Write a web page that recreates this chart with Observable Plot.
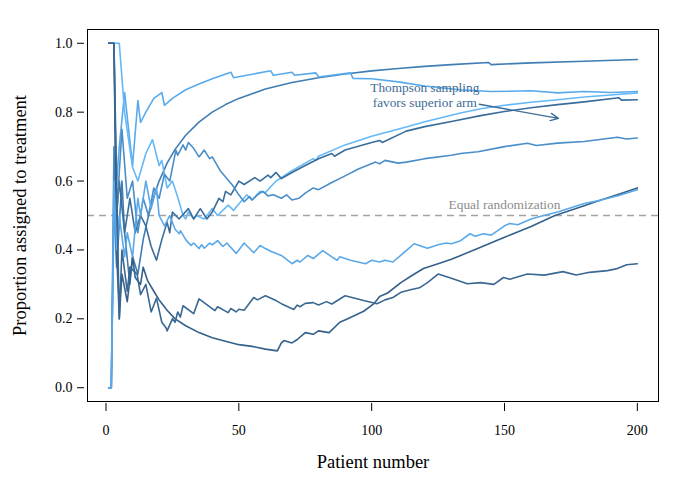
<!DOCTYPE html>
<html>
<head>
<meta charset="utf-8">
<script src="https://cdn.jsdelivr.net/npm/d3@7"></script>
<script src="https://cdn.jsdelivr.net/npm/@observablehq/plot@0.6"></script>
<style>
  html, body { margin: 0; padding: 0; background: #fff; }
  #chart svg { font-family: "Liberation Serif", "DejaVu Serif", serif; }
</style>
</head>
<body>
<div id="chart"></div>
<script>
// ---- Data: [patient number, proportion] ----
const run1 = [[1,0],[2,0],[3,0.55],[4,0.35],[6,0.6],[7,0.45],[9,0.3],[10,0.38],[12,0.33],[14,0.43],[16,0.5],[18,0.556],[20,0.6],[23,0.652],[26,0.692],[30,0.733],[35,0.771],[40,0.8],[45,0.822],[50,0.84],[60,0.867],[70,0.886],[80,0.9],[90,0.911],[100,0.92],[110,0.927],[120,0.933],[130,0.938],[144,0.944],[145,0.938],[160,0.943],[180,0.948],[200,0.953]];
const run2 = [[1,0],[2,0],[3,0.5],[5,0.7],[7,0.857],[10,0.645],[12,0.834],[13,0.77],[15,0.8],[18,0.84],[21,0.857],[22,0.82],[25,0.84],[30,0.865],[35,0.882],[40,0.897],[47,0.916],[48,0.9],[55,0.91],[62,0.92],[63,0.907],[70,0.916],[71,0.907],[79,0.914],[80,0.902],[92,0.914],[93,0.898],[100,0.897],[110,0.888],[120,0.876],[133,0.865],[145,0.86],[160,0.862],[170,0.856],[180,0.86],[190,0.857],[200,0.86]];
const run3 = [[1,1],[5,1],[7,0.8],[10,0.64],[12,0.6],[15,0.68],[17.5,0.72],[20,0.645],[21,0.66],[23,0.58],[25,0.6],[27,0.553],[29,0.5],[30,0.49],[31,0.51],[33,0.49],[34,0.5],[37,0.49],[40,0.52],[42,0.5],[46,0.53],[48,0.515],[53,0.56],[55,0.545],[58,0.57],[60,0.567],[64,0.6],[70,0.63],[75,0.652],[78,0.665],[79,0.66],[80,0.672],[90,0.705],[100,0.73],[113,0.757],[120,0.772],[133,0.797],[141,0.81],[150,0.82],[160,0.829],[171,0.837],[180,0.844],[190,0.85],[200,0.856]];
const run4 = [[1,1],[2,1],[3,1],[4,0.5],[5,0.6],[7,0.45],[9,0.55],[11,0.45],[13,0.5],[15,0.47],[17,0.41],[19,0.37],[21,0.43],[23,0.48],[24,0.45],[25,0.51],[27.5,0.49],[31,0.52],[33,0.49],[35.5,0.52],[38,0.49],[40,0.51],[42.5,0.55],[44,0.54],[45,0.57],[47,0.56],[50,0.6],[52,0.59],[56,0.61],[58,0.6],[61,0.617],[62,0.61],[64,0.625],[66,0.607],[70,0.625],[75,0.645],[80,0.665],[85,0.68],[86,0.672],[90,0.69],[100,0.712],[103,0.718],[104,0.712],[113,0.745],[120,0.758],[130,0.773],[141,0.79],[150,0.802],[160,0.813],[170,0.822],[180,0.83],[193,0.842],[194,0.835],[200,0.836]];
const run5 = [[1,0],[2,0],[3,0.7],[4,0.5],[6,0.75],[8,0.55],[10,0.6],[12,0.45],[14,0.55],[16,0.5],[18,0.58],[20,0.55],[22,0.62],[24,0.6],[26.3,0.69],[27,0.675],[29,0.705],[30,0.69],[31,0.712],[33,0.695],[35,0.67],[37,0.69],[39,0.665],[40,0.67],[43,0.63],[47.7,0.587],[50,0.56],[52,0.54],[54,0.555],[55,0.545],[57,0.56],[59,0.57],[61,0.557],[63,0.56],[66,0.55],[68,0.56],[70,0.545],[72.6,0.55],[75,0.565],[78,0.58],[80,0.575],[85,0.596],[90,0.615],[95,0.635],[101.5,0.655],[103,0.65],[105,0.66],[110,0.652],[113,0.655],[120,0.665],[130,0.675],[133.5,0.68],[140,0.685],[150,0.7],[158.6,0.71],[162,0.703],[170,0.71],[180,0.715],[192.5,0.727],[196,0.722],[200,0.725]];
const run6 = [[1,1],[2,1],[3,1],[4,0.4],[5,0.2],[6,0.33],[8,0.25],[10,0.38],[11,0.32],[13,0.3],[14,0.35],[15.7,0.31],[18,0.28],[20,0.255],[23,0.225],[26,0.2],[30,0.18],[35,0.16],[40,0.145],[45,0.135],[50,0.125],[55,0.12],[60,0.112],[64.5,0.107],[66,0.13],[67,0.137],[70,0.13],[72,0.14],[75,0.16],[78,0.155],[80,0.165],[84,0.16],[88,0.19],[91,0.2],[95,0.215],[97,0.222],[101,0.245],[103,0.265],[106,0.275],[111,0.305],[115,0.325],[119.5,0.346],[125,0.36],[130,0.373],[133.5,0.384],[141,0.408],[150,0.437],[160,0.468],[169,0.5],[180,0.528],[186,0.544],[193,0.562],[200,0.58]];
const run7 = [[1,0],[2,0],[3,0.6],[4,0.4],[5,0.5],[7,0.38],[8,0.45],[10,0.38],[12,0.55],[13,0.5],[15,0.6],[17,0.52],[19,0.58],[20,0.5],[22,0.47],[24,0.5],[26,0.46],[27.6,0.447],[28,0.456],[30,0.43],[32,0.413],[33,0.42],[35,0.404],[36,0.415],[37,0.405],[39,0.42],[40,0.415],[42,0.427],[44,0.41],[45.5,0.42],[49,0.39],[52,0.42],[55.6,0.392],[58,0.413],[60,0.404],[62,0.396],[66,0.384],[70,0.36],[72,0.37],[73,0.365],[76,0.384],[78,0.375],[81.6,0.398],[85,0.38],[87,0.37],[88,0.38],[92,0.37],[97.7,0.36],[100,0.37],[103,0.365],[105,0.37],[108,0.365],[113,0.398],[116,0.418],[119,0.41],[121,0.405],[125,0.415],[128,0.42],[130,0.418],[133.5,0.427],[137,0.447],[139,0.44],[142,0.447],[145,0.443],[150,0.47],[152,0.477],[155,0.473],[160,0.49],[164.7,0.5],[170,0.51],[180,0.535],[186,0.544],[193,0.558],[200,0.575]];
const run8 = [[1,1],[2,1],[3,1],[4,0.6],[5,0.2],[6,0.4],[8,0.28],[9,0.35],[11.7,0.33],[13,0.27],[15,0.3],[17,0.22],[19,0.26],[21,0.19],[22.6,0.174],[23,0.165],[25,0.2],[26,0.19],[27,0.22],[28,0.205],[29,0.238],[33,0.215],[35,0.258],[41,0.224],[42,0.235],[46,0.218],[47,0.23],[49,0.22],[50,0.228],[52,0.225],[55.6,0.262],[57,0.255],[60,0.267],[64,0.253],[66,0.244],[70.7,0.227],[72,0.24],[73,0.235],[75,0.245],[78,0.247],[80,0.24],[83,0.25],[85,0.243],[90,0.267],[97,0.253],[102,0.244],[105,0.255],[108,0.262],[111,0.277],[115,0.285],[118,0.29],[121,0.305],[125,0.33],[130,0.318],[136,0.302],[141,0.305],[146,0.3],[149.6,0.32],[152,0.315],[158.6,0.33],[165,0.327],[172,0.337],[177,0.327],[182,0.335],[188.7,0.34],[192,0.345],[196,0.357],[200,0.36]];

const runNames = ["run1","run2","run3","run4","run5","run6","run7","run8"];
const runColors = ["#3f7db3","#58aaec","#63b9f8","#3a6d9b","#4a8ec9","#34608a","#5aa8e8","#3a6892"];
const xTicks = [0, 50, 100, 150, 200];
const yTicks = [0, 0.2, 0.4, 0.6, 0.8, 1.0];
const equalLevel = 0.5;
const equalLabel = {x: 150, y: 0.532, text: "Equal randomization"};
const noteLines = [{x: 120, y: 0.872, text: "Thompson sampling"}, {x: 120, y: 0.828, text: "favors superior arm"}];
const noteArrow = {x1: 140.5, y1: 0.823, x2: 170.3, y2: 0.782};

const runs = [run1, run2, run3, run4, run5, run6, run7, run8];
const rows = runs.flatMap((r, i) => r.map(([n, p]) => ({run: runNames[i], n, p})));

const plot = Plot.plot({
  width: 674,
  height: 482,
  marginLeft: 87,
  marginRight: 16,
  marginTop: 29,
  marginBottom: 81,
  style: {fontFamily: "'Liberation Serif', 'DejaVu Serif', serif", background: "#fff"},
  x: {domain: [-6.96, 207.96]},
  y: {domain: [-0.04, 1.04]},
  color: {domain: runNames, range: runColors},
  marks: [
    Plot.ruleY([equalLevel], {stroke: "#a3a3a3", strokeWidth: 1.6, strokeDasharray: "7,5"}),
    Plot.text([equalLabel], {x: "x", y: "y", text: "text", fill: "#8c8c8c", fontSize: 13.4}),
    Plot.line(rows, {x: "n", y: "p", z: "run", stroke: "run", strokeWidth: 1.6, curve: "linear"}),
    Plot.text(noteLines, {x: "x", y: "y", text: "text", fill: "#3d6b97", fontSize: 13.3}),
    Plot.arrow([noteArrow], {x1: "x1", y1: "y1", x2: "x2", y2: "y2", stroke: "#3d6b97", strokeWidth: 1.3, headLength: 10, headAngle: 50}),
    Plot.frame({stroke: "#000", strokeWidth: 1}),
    Plot.axisX({ticks: xTicks, tickSize: 8, tickPadding: 14, dy: 2, fontSize: 14, label: null, stroke: "#000"}),
    Plot.axisY({ticks: yTicks, tickSize: 7, tickPadding: 5, dx: -3, fontSize: 14, label: null, tickFormat: d3.format(".1f"), stroke: "#000"}),
    Plot.text(["Patient number"], {frameAnchor: "bottom", dy: 66, fontSize: 18.5, fill: "#000"}),
    Plot.text(["Proportion assigned to treatment"], {frameAnchor: "left", dx: -67, rotate: -90, textAnchor: "middle", fontSize: 18.5, fill: "#000"})
  ]
});
document.getElementById("chart").appendChild(plot);
</script>
</body>
</html>
